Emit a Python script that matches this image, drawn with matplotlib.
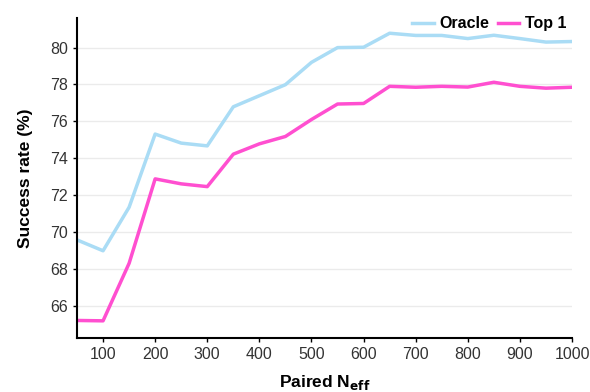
import matplotlib.pyplot as plt

plt.rcParams["font.family"] = ["Liberation Sans", "DejaVu Sans"]

# Paired N_eff values
n_eff = [50, 100, 150, 200, 250, 300, 350, 400, 450, 500,
         550, 600, 650, 700, 750, 800, 850, 900, 950, 1000]

# Success rate (%)
oracle = [69.57, 68.98, 71.34, 75.31, 74.82, 74.67, 76.79, 77.39, 77.99, 79.2,
          80.0, 80.02, 80.78, 80.66, 80.66, 80.49, 80.67, 80.49, 80.3, 80.33]
top1 = [65.2, 65.18, 68.3, 72.88, 72.61, 72.46, 74.22, 74.78, 75.18, 76.1,
        76.94, 76.97, 77.9, 77.85, 77.9, 77.86, 78.12, 77.9, 77.8, 77.85]

fig = plt.figure(figsize=(5.9, 3.92), dpi=100)
ax = fig.add_axes([0.1305, 0.1378, 0.839, 0.816])

ax.plot(n_eff, oracle, color="#aadcf5", lw=2.5, label="Oracle")
ax.plot(n_eff, top1, color="#ff4fd0", lw=2.5, label="Top 1")

ax.set_xlim(50, 1000)
ax.set_ylim(64.25, 81.6)
ax.set_xticks(range(100, 1001, 100))
ax.set_yticks(range(66, 81, 2))
ax.grid(axis="y", color="#ebebeb", lw=1)
ax.set_axisbelow(True)

for s in ["top", "right"]:
    ax.spines[s].set_visible(False)
for s in ["left", "bottom"]:
    ax.spines[s].set_linewidth(1.5)
ax.tick_params(labelsize=11.5, labelcolor="#333333", length=3, width=1, color="black")

ax.set_xlabel(r"Paired N$_{\mathbf{eff}}$", fontsize=12.5, fontweight="bold", labelpad=8)
ax.set_ylabel("Success rate (%)", fontsize=12.5, fontweight="bold", labelpad=12)

leg = ax.legend(loc="upper right", bbox_to_anchor=(1.018, 1.05), ncol=2, frameon=False,
                handlelength=1.35, handletextpad=0.35, columnspacing=0.55,
                prop={"weight": "bold", "size": 11.5})

fig.savefig("out.png", dpi=100)
